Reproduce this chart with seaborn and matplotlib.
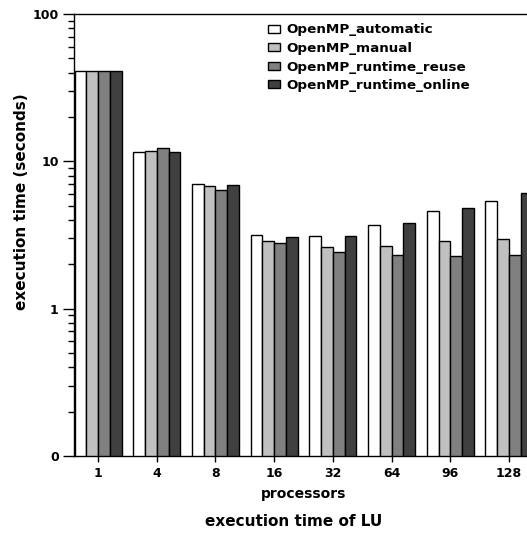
import matplotlib
matplotlib.use("Agg")
import matplotlib.pyplot as plt
import matplotlib.ticker as mticker
from matplotlib.patches import Patch
import seaborn as sns
import pandas as pd

# Execution time (seconds) of the LU benchmark per processor count
processors = ["1", "4", "8", "16", "32", "64", "96", "128"]
openmp_automatic = [41.0, 11.6, 7.0, 3.17, 3.10, 3.71, 4.59, 5.34]
openmp_manual = [41.0, 11.8, 6.8, 2.90, 2.61, 2.65, 2.89, 2.96]
openmp_runtime_reuse = [41.0, 12.4, 6.35, 2.81, 2.44, 2.33, 2.29, 2.32]
openmp_runtime_online = [41.0, 11.5, 6.87, 3.07, 3.10, 3.83, 4.84, 6.12]

variants = ["OpenMP_automatic", "OpenMP_manual",
            "OpenMP_runtime_reuse", "OpenMP_runtime_online"]
series = [openmp_automatic, openmp_manual,
          openmp_runtime_reuse, openmp_runtime_online]
colors = ["#ffffff", "#c0c0c0", "#808080", "#404040"]

df = pd.DataFrame(
    [(p, v, t) for v, vals in zip(variants, series)
     for p, t in zip(processors, vals)],
    columns=["processors", "variant", "time"],
)

sns.set_style("ticks")
plt.rcParams["font.family"] = ["DejaVu Sans"]
plt.rcParams["font.weight"] = "bold"
plt.rcParams["text.color"] = "black"
plt.rcParams["axes.labelcolor"] = "black"
plt.rcParams["xtick.color"] = "black"
plt.rcParams["ytick.color"] = "black"
plt.rcParams["axes.edgecolor"] = "black"

fig = plt.figure(figsize=(5.27, 5.35), dpi=100)
ax = fig.add_axes([74 / 527, 1 - 456 / 535, 459 / 527, 442 / 535])

sns.barplot(
    data=df, x="processors", y="time", hue="variant",
    order=processors, hue_order=variants, palette=colors,
    saturation=1, width=0.8, edgecolor="black", linewidth=1.0,
    legend=False, ax=ax,
)

ax.set_yscale("log")
ax.set_ylim(0.1, 100)
ax.set_xlim(-0.41, 7.41)

ax.yaxis.set_major_locator(mticker.FixedLocator([0.1, 1, 10, 100]))
ax.yaxis.set_major_formatter(mticker.FixedFormatter(["0", "1", "10", "100"]))
ax.yaxis.set_minor_locator(mticker.LogLocator(base=10, subs=range(2, 10), numticks=20))
ax.yaxis.set_minor_formatter(mticker.NullFormatter())

ax.tick_params(axis="y", which="major", length=8, width=1, pad=3,
               labelsize=9, color="black", labelcolor="black")
ax.tick_params(axis="y", which="minor", length=4, width=1, color="black")
ax.tick_params(axis="x", which="major", length=4, width=1, pad=4,
               labelsize=9, color="black", labelcolor="black")
for lab in ax.get_xticklabels() + ax.get_yticklabels():
    lab.set_fontweight("bold")

for side in ["left", "bottom", "top", "right"]:
    ax.spines[side].set_visible(True)
    ax.spines[side].set_linewidth(1.0)
    ax.spines[side].set_color("black")

ax.set_xlabel("processors", fontsize=10, fontweight="bold", labelpad=5,
              color="black")
ax.set_ylabel("")
fig.text(22 / 527, 1 - 202 / 535, "execution time (seconds)", rotation=90,
         ha="center", va="center", fontsize=11, fontweight="bold",
         color="black")
fig.text(294 / 527, 1 - 521 / 535, "execution time of LU",
         ha="center", va="center", fontsize=11, fontweight="bold",
         color="black")

handles = [Patch(facecolor=c, edgecolor="black", linewidth=1.0) for c in colors]
leg = ax.legend(
    handles, variants, loc="upper left",
    bbox_to_anchor=(268 / 527, 1 - 23.5 / 535), bbox_transform=fig.transFigure,
    frameon=False, borderpad=0, borderaxespad=0,
    handlelength=0.9, handleheight=0.5, handletextpad=0.5, labelspacing=0.41,
    prop={"size": 9.7, "weight": "bold"},
)
for t in leg.get_texts():
    t.set_color("black")

fig.savefig("out.png", dpi=100)
